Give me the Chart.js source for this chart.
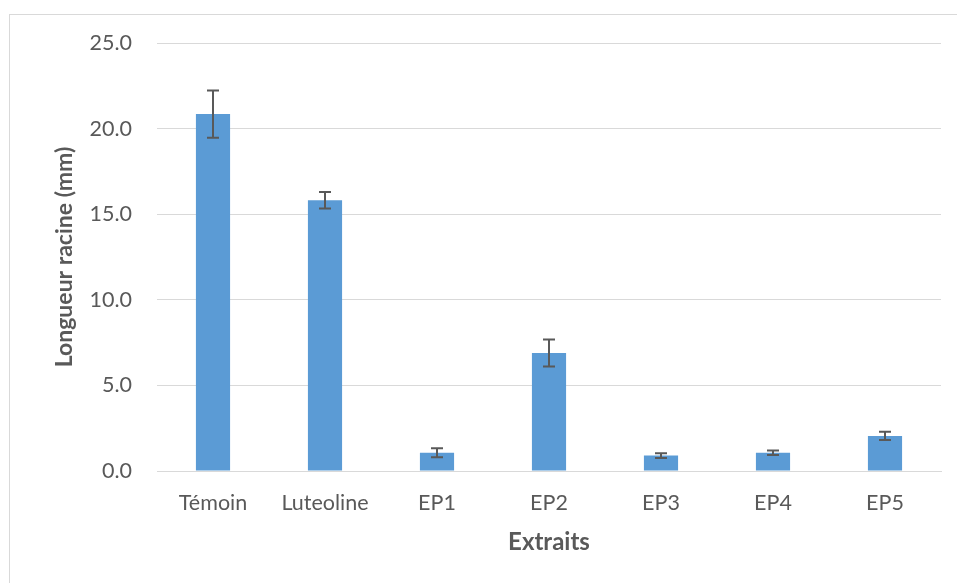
<!DOCTYPE html>
<html>
<head>
<meta charset="utf-8">
<script src="https://cdn.jsdelivr.net/npm/chart.js@4.4.0/dist/chart.umd.min.js"></script>
<style>
  body { margin: 0; background: #fff; }
  .wrap { position: relative; width: 957px; height: 583px; overflow: hidden; }
  .frame { position: absolute; left: 9px; top: 14px; width: 980px; height: 620px; border: 1px solid #d9d9d9; box-sizing: border-box; }
  canvas { position: absolute; left: 0; top: 0; }
</style>
</head>
<body>
<div class="wrap">
  <div class="frame"></div>
  <canvas id="chart" width="957" height="583"></canvas>
</div>
<script>
const categories = ["Témoin", "Luteoline", "EP1", "EP2", "EP3", "EP4", "EP5"];
const lengths = [20.85, 15.82, 1.07, 6.89, 0.9, 1.07, 2.05];
const errors = [1.38, 0.48, 0.26, 0.79, 0.14, 0.13, 0.24];
const yTicks = [0, 5, 10, 15, 20, 25];

const FONT = "Lato, 'Open Sans', sans-serif";

// draws the +/- error bars on top of each bar
const errorBars = {
  id: "errorBars",
  afterDatasetsDraw(chart) {
    const ctx = chart.ctx;
    const y = chart.scales.y;
    const meta = chart.getDatasetMeta(0);
    ctx.save();
    ctx.strokeStyle = "#595959";
    ctx.lineWidth = 2;
    meta.data.forEach((bar, i) => {
      const v = lengths[i];
      const top = y.getPixelForValue(v + errors[i]);
      const bot = y.getPixelForValue(v - errors[i]);
      const x = Math.round(bar.x);
      ctx.beginPath();
      ctx.moveTo(x, top);
      ctx.lineTo(x, bot);
      ctx.moveTo(x - 6, top);
      ctx.lineTo(x + 6, top);
      ctx.moveTo(x - 6, bot);
      ctx.lineTo(x + 6, bot);
      ctx.stroke();
    });
    ctx.restore();
  },
};

new Chart(document.getElementById("chart"), {
  type: "bar",
  data: {
    labels: categories,
    datasets: [
      {
        label: "Longueur racine",
        data: lengths,
        backgroundColor: "#5b9bd5",
        categoryPercentage: 1,
        barPercentage: 0.305,
      },
    ],
  },
  options: {
    responsive: false,
    animation: false,
    layout: { padding: { left: 51, right: 16, top: 43, bottom: 0 } },
    plugins: { legend: { display: false }, tooltip: { enabled: false } },
    scales: {
      x: {
        grid: { display: false, drawTicks: false },
        border: { color: "#d9d9d9", width: 1 },
        ticks: { color: "#595959", font: { family: FONT, size: 21.5 }, padding: 19, maxRotation: 0 },
        title: {
          display: true,
          text: "Extraits",
          color: "#595959",
          font: { family: FONT, size: 24, weight: "bold" },
          padding: { top: 0, bottom: 26 },
        },
        afterFit: (s) => { s.height = 112; },
      },
      y: {
        min: 0,
        max: 25,
        afterBuildTicks: (s) => { s.ticks = yTicks.map((v) => ({ value: v })); },
        grid: { color: "#d9d9d9", lineWidth: 1, drawTicks: false },
        border: { display: false },
        ticks: {
          color: "#595959",
          font: { family: FONT, size: 21.5 },
          padding: 25,
          callback: (v) => v.toFixed(1),
        },
        title: {
          display: true,
          text: "Longueur racine (mm)",
          color: "#595959",
          font: { family: FONT, size: 23, weight: "bold" },
          padding: 0,
        },
        afterFit: (s) => { s.width = 106; },
      },
    },
  },
  plugins: [errorBars],
});
</script>
</body>
</html>
